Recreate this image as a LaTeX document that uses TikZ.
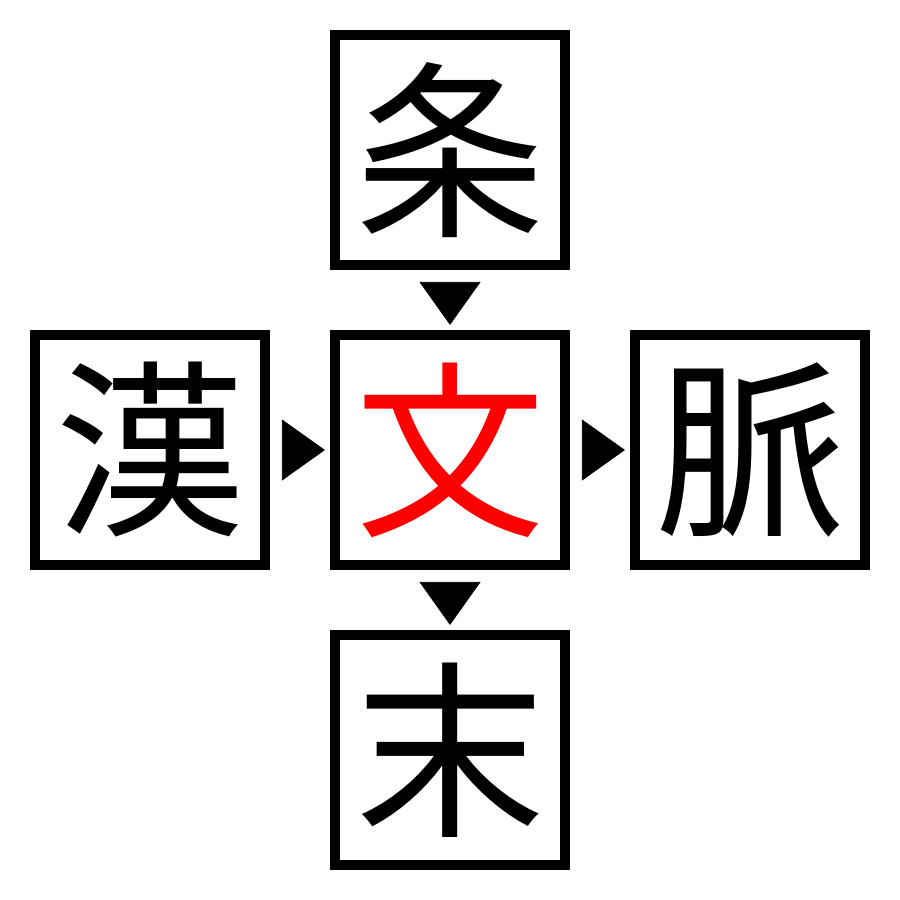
\documentclass[tikz,border=0pt]{standalone}
\usepackage{fontspec}
\newfontfamily\cjk{Noto Sans CJK JP}
\usepackage{xcolor}
\usetikzlibrary{arrows.meta, positioning}

\begin{document}
\begin{tikzpicture}[
    x=0.01cm, y=-0.01cm,
    kanji/.style={rectangle, draw, line width=0.1cm, minimum size=2.3cm, inner sep=0pt, outer sep=0pt, font=\cjk\fontsize{54}{54}\selectfont},
    connector/.style={-{Triangle[length=0.43cm, width=0.61cm]}, line width=0.2pt, shorten <=0.17cm, shorten >=0.1cm},
]
    \useasboundingbox (0,0) rectangle (900,900);

    % Boxes
    \node[kanji] (bun) at (450,450) {\textcolor{red}{文}};
    \node[kanji] (jou) at (450,150) {条};
    \node[kanji] (han) at (150,450) {漢};
    \node[kanji] (myaku) at (750,450) {脈};
    \node[kanji] (matsu) at (450,750) {末};

    % Arrows
    \draw[connector] (jou) -- (bun);
    \draw[connector] (han) -- (bun);
    \draw[connector] (bun) -- (myaku);
    \draw[connector] (bun) -- (matsu);
\end{tikzpicture}
\end{document}
